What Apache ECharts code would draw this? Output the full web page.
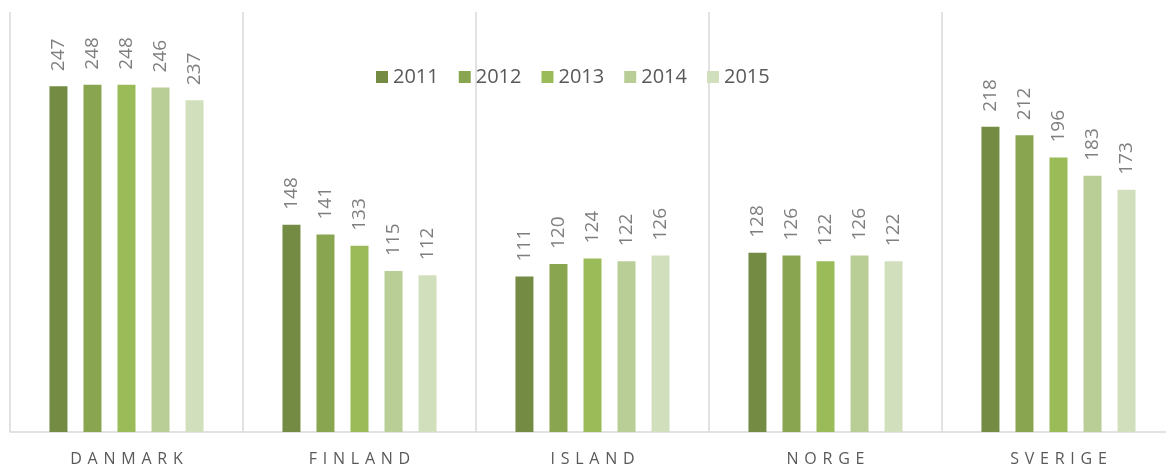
<!DOCTYPE html>
<html>
<head>
<meta charset="utf-8">
<script src="https://cdn.jsdelivr.net/npm/echarts@6/dist/echarts.min.js"></script>
<style>
  html, body { margin: 0; padding: 0; background: #fff; overflow: hidden; }
  #chart { width: 1175px; height: 468px; }
</style>
</head>
<body>
<div id="chart"></div>
<script>
const countries = ['DANMARK', 'FINLAND', 'ISLAND', 'NORGE', 'SVERIGE']
const years = ['2011', '2012', '2013', '2014', '2015']
const values2011 = [247, 148, 111, 128, 218]
const values2012 = [248, 141, 120, 126, 212]
const values2013 = [248, 133, 124, 122, 196]
const values2014 = [246, 115, 122, 126, 183]
const values2015 = [237, 112, 126, 122, 173]

const colors = ['#738b42', '#8aa550', '#9bbb59', '#b9cd96', '#d2dfbc']
const seriesValues = [values2011, values2012, values2013, values2014, values2015]

// the chart is a bit wider than the window: the last separator sits just off-canvas
const chart = echarts.init(document.getElementById('chart'))
chart.setOption({
  animation: false,
  textStyle: { fontFamily: 'Open Sans' },
  legend: {
    left: 371,
    top: 62,
    icon: 'rect',
    itemWidth: 12,
    itemHeight: 12,
    itemGap: 20,
    textStyle: { fontSize: 20, color: '#595959' },
    data: years
  },
  grid: {
    left: 10,
    top: 12,
    right: 0,
    bottom: 36
  },
  xAxis: {
    type: 'category',
    data: countries,
    axisLine: { lineStyle: { color: '#d9d9d9', width: 1.5 } },
    axisTick: { show: false },
    splitLine: { show: true, lineStyle: { color: '#d9d9d9', width: 1.5 } },
    axisLabel: {
      margin: 19,
      fontSize: 16,
      color: '#595959',
      formatter: v => v.split('').join(' \u200a')
    }
  },
  yAxis: {
    type: 'value',
    min: 0,
    max: 300,
    show: false
  },
  series: years.map((y, i) => ({
    name: y,
    type: 'bar',
    barWidth: 18,
    barGap: '89%',
    itemStyle: { color: colors[i] },
    label: {
      show: true,
      position: 'top',
      rotate: 90,
      align: 'left',
      verticalAlign: 'middle',
      distance: 15,
      fontSize: 19,
      color: '#7f7f7f'
    },
    data: seriesValues[i]
  }))
})
</script>
</body>
</html>
